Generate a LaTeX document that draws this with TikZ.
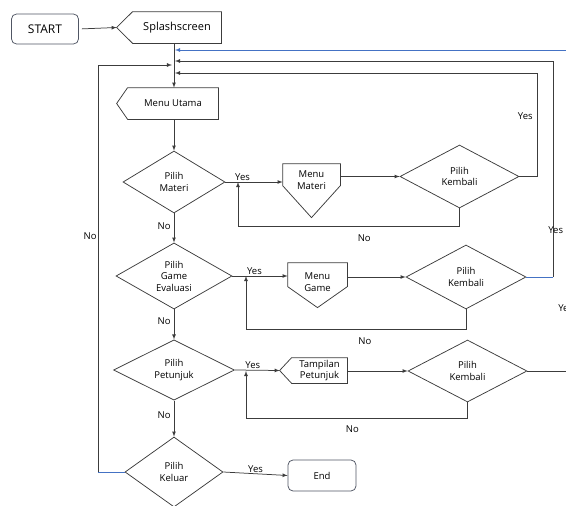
\documentclass[tikz,border=0pt]{standalone}
\usepackage{fontspec}
\setmainfont{Open Sans}
\usetikzlibrary{arrows,calc,shapes.geometric}
\definecolor{linegray}{RGB}{60,60,60}
\definecolor{boxgray}{RGB}{80,86,100}
\definecolor{linkblue}{RGB}{68,114,196}
\begin{document}
\begin{tikzpicture}[x=1pt,y=1pt,line width=0.75pt,font=\fontsize{9.5}{11.5}\selectfont]
\tikzstyle{terminal} = [rectangle, draw=boxgray, rounded corners=5pt,
minimum width=67pt, minimum height=30pt, inner sep=0pt]
\tikzstyle{decision} = [diamond, draw=linegray, text centered, align=center, inner sep=0pt]
\tikzstyle{body} = [rectangle, align=center, inner sep=0pt]
\tikzstyle{outline} = [draw=linegray];
\tikzstyle{line} = [draw=linegray, ->, >=latex];
\tikzstyle{blueline} = [draw=linkblue, ->, >=latex];
\tikzstyle{label} = [inner sep=1pt];

\useasboundingbox (0,0) rectangle (566,-506);

% spine and entry points
\coordinate (sp) at (174,0);
\coordinate (in1) at (175,-73);
\coordinate (in2) at (175,-61);
\coordinate (in3) at (175,-50);
\coordinate (in4) at (172,-65);
\coordinate (r1) at (537,0);
\coordinate (r2) at (553,0);
\coordinate (edge) at (566,0);

% row 0
\node [terminal] (start) at (45,-29) {\fontsize{12}{14}\selectfont START};
\node [body, minimum width=88pt, minimum height=31pt] (splash) at (177,-27.5)
{\fontsize{11}{13}\selectfont Splashscreen};
\coordinate (splashtip) at ($(splash.west)+(-16,0)$);
\draw [outline] (splash.north west) -- (splash.north east) -- (splash.south east)
-- (splash.south west) -- (splashtip) -- cycle;
\node [body, minimum width=90pt, minimum height=31pt] (menu) at (173,-103.5) {Menu Utama};
\coordinate (menutip) at ($(menu.west)+(-11,0)$);
\draw [outline] (menu.north west) -- (menu.north east) -- (menu.south east)
-- (menu.south west) -- (menutip) -- cycle;
% row 1
\node [decision, minimum width=102pt, minimum height=62pt] (materi) at (174,-182) {Pilih\\Materi};
\node [body, minimum width=57pt, minimum height=32pt] (menumateri) at (311.5,-180) {Menu\\Materi};
\draw [outline] (menumateri.north west) -- (menumateri.north east) -- ++(0,-22)
-- ($(menumateri.north)+(0,-54)$) -- ($(menumateri.north west)+(0,-22)$) -- cycle;
\node [decision, minimum width=119pt, minimum height=63pt] (kembali1) at (459.5,-176.5) {Pilih\\Kembali};
% row 2
\node [decision, minimum width=116pt, minimum height=64pt] (game) at (174,-276) {Pilih\\Game\\Evaluasi};
\node [body, minimum width=59pt, minimum height=38pt] (menugame) at (317.5,-282) {Menu\\Game};
\draw [outline] (menugame.north west) -- (menugame.north east) -- ++(0,-24)
-- ($(menugame.north)+(0,-45)$) -- ($(menugame.north west)+(0,-24)$) -- cycle;
\node [decision, minimum width=120pt, minimum height=64pt] (kembali2) at (466,-277) {Pilih\\Kembali};
% row 3
\node [decision, minimum width=121pt, minimum height=60pt] (petunjuk) at (174,-370) {Pilih\\Petunjuk};
\node [body, minimum width=55pt, minimum height=25pt] (tampilan) at (319.5,-370.5) {Tampilan\\Petunjuk};
\coordinate (tampilantip) at ($(tampilan.west)+(-12,0)$);
\draw [outline] (tampilan.north west) -- (tampilan.north east) -- (tampilan.south east)
-- (tampilan.south west) -- (tampilantip) -- cycle;
\node [decision, minimum width=119pt, minimum height=62pt] (kembali3) at (467.5,-371) {Pilih\\Kembali};
% row 4
\node [decision, minimum width=98pt, minimum height=70pt] (keluar) at (174,-472) {Pilih\\Keluar};
\node [terminal, minimum width=68pt, minimum height=31pt] (stop) at (322,-475.5) {End};

\coordinate (j1) at (238,-182);
\coordinate (j2) at (246,-276);
\coordinate (j3) at (246,-371);

% main column
\path [line, shorten <=3pt] (start.east) -- (splashtip);
\path [line] (splash.south -| sp) -- (menu.north -| sp);
\path [line] (menu.south -| sp) -- (materi.north);
\path [line] (materi.south) -- node [label, left=2pt, pos=0.45] {No} (game.north);
\path [line] (game.south) -- node [label, left=2pt, pos=0.4] {No} (petunjuk.north);
\path [line] (petunjuk.south) -- node [label, left=2pt, pos=0.4] {No} (keluar.north);

% row 1
\path [line] (materi.east) -- node [label, above, pos=0.3] {Yes} (materi.east -| menumateri.west);
\path [line] (kembali1.west -| menumateri.east) -- (kembali1.west);
\path [line] (kembali1.south) -- ++(0,-18) -| node [label, below=7pt, pos=0.215] {No} (j1);
\path [line] (kembali1.east) -- (kembali1.east -| r1) |- node [label, left=3pt, pos=0.29] {Yes} (in1);

% row 2
\path [line] (game.east) -- node [label, above, pos=0.4] {Yes} (game.east -| menugame.west);
\path [line] (kembali2.west -| menugame.east) -- (kembali2.west);
\path [line] (kembali2.south) -- ++(0,-20) -| node [label, below=7pt, pos=0.23] {No} (j2);
\draw [linkblue] (kembali2.east) -- (kembali2.east -| r2);
\path [line] (kembali2.east -| r2) |- (in2);
\node [label, anchor=west] (yes2) at (547,-230) {Yes};

% row 3
\path [line] (petunjuk.east) -- node [label, above, pos=0.4] {Yes} (tampilantip);
\path [line] (kembali3.west -| tampilan.east) -- (kembali3.west);
\path [line] (kembali3.south) -- ++(0,-16) -| node [label, below=6pt, pos=0.26] {No} (j3);
\draw [linegray] (kembali3.east) -- (kembali3.east -| edge);
\node [label, anchor=west] (yes3) at (557,-308) {Yes};
\path [blueline] (edge |- in3) -- (in3);

% row 4
\path [line] (keluar.east) -- node [label, above, pos=0.5] {Yes} (stop.west);
\draw [linkblue] (keluar.west) -- (98,-472);
\path [line] (98,-472) -- node [label, left, pos=0.58] {No} (98,-65) -- (in4);

\end{tikzpicture}
\end{document}
